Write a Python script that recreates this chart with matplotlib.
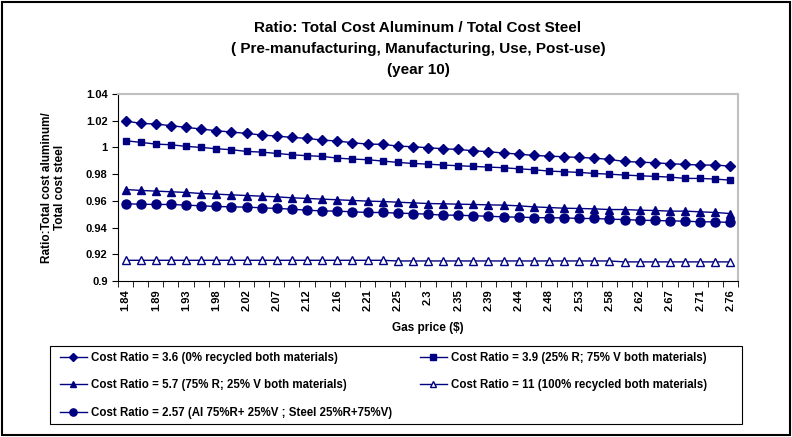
import numpy as np
import matplotlib.pyplot as plt
from matplotlib.patches import Rectangle

plt.rcParams['font.family'] = ['Liberation Sans', 'DejaVu Sans']
plt.rcParams['font.weight'] = 'bold'
plt.rcParams['axes.labelweight'] = 'bold'

# Data ########################################################
gas_price = [1.840, 1.863, 1.886, 1.909, 1.932, 1.955, 1.978, 2.001, 2.024, 2.047,
             2.070, 2.093, 2.116, 2.139, 2.162, 2.185, 2.208, 2.231, 2.254, 2.277,
             2.300, 2.323, 2.346, 2.369, 2.392, 2.415, 2.438, 2.461, 2.484, 2.507,
             2.530, 2.553, 2.576, 2.599, 2.622, 2.645, 2.668, 2.691, 2.714, 2.737,
             2.760]

ratio_36 = [1.0198, 1.0180, 1.0175, 1.0163, 1.0150, 1.0138, 1.0125, 1.0115, 1.0105, 1.0093,
            1.0085, 1.0075, 1.0068, 1.0055, 1.0048, 1.0035, 1.0025, 1.0023, 1.0010, 1.0005,
            0.9998, 0.9990, 0.9985, 0.9975, 0.9968, 0.9958, 0.9950, 0.9940, 0.9935, 0.9930,
            0.9925, 0.9920, 0.9910, 0.9895, 0.9890, 0.9885, 0.9878, 0.9873, 0.9868, 0.9868,
            0.9860]
ratio_39 = [1.0050, 1.0038, 1.0025, 1.0020, 1.0008, 1.0000, 0.9990, 0.9983, 0.9970, 0.9965,
            0.9955, 0.9945, 0.9938, 0.9933, 0.9920, 0.9913, 0.9908, 0.9898, 0.9888, 0.9880,
            0.9875, 0.9868, 0.9863, 0.9858, 0.9853, 0.9848, 0.9840, 0.9833, 0.9823, 0.9818,
            0.9813, 0.9805, 0.9800, 0.9793, 0.9788, 0.9783, 0.9778, 0.9768, 0.9768, 0.9763,
            0.9755]
ratio_57 = [0.9685, 0.9678, 0.9673, 0.9668, 0.9663, 0.9655, 0.9650, 0.9645, 0.9640, 0.9635,
            0.9630, 0.9623, 0.9618, 0.9613, 0.9608, 0.9603, 0.9598, 0.9595, 0.9590, 0.9585,
            0.9580, 0.9578, 0.9575, 0.9573, 0.9570, 0.9568, 0.9563, 0.9555, 0.9550, 0.9545,
            0.9543, 0.9540, 0.9535, 0.9535, 0.9530, 0.9528, 0.9523, 0.9523, 0.9518, 0.9513,
            0.9505]
ratio_11 = [0.9155, 0.9155, 0.9155, 0.9155, 0.9155, 0.9155, 0.9155, 0.9155, 0.9155, 0.9155,
            0.9155, 0.9155, 0.9155, 0.9155, 0.9155, 0.9155, 0.9155, 0.9155, 0.9150, 0.9150,
            0.9150, 0.9150, 0.9150, 0.9150, 0.9150, 0.9150, 0.9150, 0.9150, 0.9150, 0.9150,
            0.9150, 0.9150, 0.9150, 0.9143, 0.9143, 0.9143, 0.9143, 0.9143, 0.9143, 0.9143,
            0.9143]
ratio_257 = [0.9578, 0.9575, 0.9573, 0.9573, 0.9568, 0.9563, 0.9558, 0.9555, 0.9553, 0.9548,
             0.9543, 0.9538, 0.9530, 0.9525, 0.9523, 0.9518, 0.9513, 0.9513, 0.9508, 0.9505,
             0.9500, 0.9493, 0.9493, 0.9488, 0.9485, 0.9480, 0.9478, 0.9475, 0.9473, 0.9473,
             0.9468, 0.9468, 0.9463, 0.9460, 0.9455, 0.9453, 0.9450, 0.9448, 0.9443, 0.9443,
             0.9438]

labels = ["Cost Ratio = 3.6 (0% recycled both materials)",
          "Cost Ratio = 3.9 (25% R; 75% V both materials)",
          "Cost Ratio = 5.7 (75% R; 25% V both materials)",
          "Cost Ratio = 11 (100% recycled both materials)",
          "Cost Ratio = 2.57 (Al 75%R+ 25%V ; Steel 25%R+75%V)"]

# Plot ########################################################
navy = '#000080'
fig = plt.figure(figsize=(7.92, 4.37), dpi=100)
ax = fig.add_axes([118/792, 1 - 281/437, 620/792, 187/437])

x = np.arange(len(gas_price))
h36, = ax.plot(x, ratio_36, color=navy, lw=1, marker='D', ms=5.5)
h39, = ax.plot(x, ratio_39, color=navy, lw=1, marker='s', ms=5)
h57, = ax.plot(x, ratio_57, color=navy, lw=1, marker='^', ms=6)
h11, = ax.plot(x, ratio_11, color=navy, lw=1, marker='^', ms=6, mfc='white')
h257, = ax.plot(x, ratio_257, color=navy, lw=1, marker='o', ms=6.5)

ax.set_xlim(-0.5, len(gas_price) - 0.5)
ax.set_ylim(0.9, 1.04)
yt = np.round(np.arange(0.9, 1.0401, 0.02), 2)
ax.set_yticks(yt)
ax.set_yticklabels([f"{v:g}" for v in yt], fontsize=8)

ax.set_xticks(x[::2])
ax.set_xticklabels([f"{v:.2f}".rstrip('0') for v in gas_price[::2]], rotation=90, fontsize=8)
ax.set_xticks(np.arange(-0.5, len(gas_price), 1), minor=True)
ax.tick_params(axis='x', which='major', length=0, pad=6)
ax.tick_params(axis='x', which='minor', length=4, direction='out')
ax.tick_params(axis='y', length=4, direction='out')

for s in ['top', 'right']:
    ax.spines[s].set_color('#c0c0c0')
    ax.spines[s].set_linewidth(1.5)

ax.set_xlabel("Gas price ($)", fontsize=8.5, labelpad=8)
ax.set_ylabel("Ratio:Total cost aluminum/\nTotal cost steel", fontsize=8.5, labelpad=14,
              multialignment='center')

fig.text(418/792, 1 - 28/437, "Ratio: Total Cost Aluminum / Total Cost Steel", ha='center', va='center', fontsize=11)
fig.text(418/792, 1 - 49/437, "( Pre-manufacturing, Manufacturing, Use, Post-use)", ha='center', va='center', fontsize=11)
fig.text(418/792, 1 - 70/437, "(year 10)", ha='center', va='center', fontsize=11)

leg = fig.legend([h36, h57, h257, h39, h11], [labels[0], labels[2], labels[4], labels[1], labels[3]],
                 ncol=2, loc='upper left', bbox_to_anchor=(55/792, 1 - 347/437),
                 fontsize=8.3, frameon=False, handlelength=2.4, handletextpad=0.3,
                 labelspacing=1.35, columnspacing=2.4, borderaxespad=0, markerscale=0.8)

fig.patches.append(Rectangle((50/792, 1 - 424/437), 692/792, 78/437, transform=fig.transFigure,
                             fill=False, edgecolor='black', lw=0.8))
fig.patches.append(Rectangle((0.003, 0.004), 0.994, 0.992, transform=fig.transFigure,
                             fill=False, edgecolor='black', lw=1.5))

fig.savefig('out.png', dpi=100)
